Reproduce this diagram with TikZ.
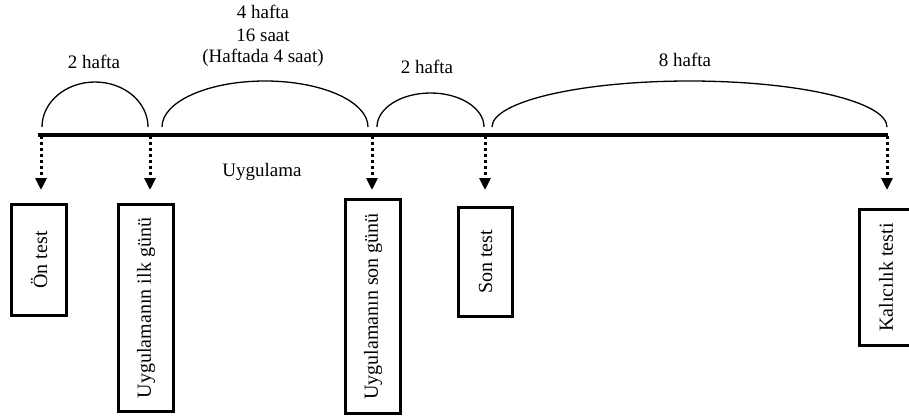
\documentclass[tikz,border=0pt]{standalone}
\usepackage{fontspec}
\setmainfont{Liberation Serif}
\usetikzlibrary{arrows.meta}

\begin{document}
\begin{tikzpicture}[x=1pt,y=1pt,
  lbl/.style={font=\fontsize{19}{22}\selectfont, inner sep=0pt, anchor=base},
  phase/.style={draw, line width=3pt, rotate=90, inner sep=0pt,
    font=\fontsize{20}{24}\selectfont},
  span/.style={line width=1.3pt},
  drop/.style={line width=3pt, dash pattern=on 3pt off 3pt,
    -{Triangle[width=11pt,length=12pt]}},
  axis/.style={line width=3.5pt}]
\useasboundingbox (0,0) rectangle (909,-416);

% time axis and its marks
\coordinate (s) at (38,-135);
\coordinate (e) at (888,-135);
\draw[axis] (s) -- (e);
\coordinate (t1) at (41,-136);
\coordinate (t2) at (150,-136);
\coordinate (t3) at (372,-136);
\coordinate (t4) at (485,-136);
\coordinate (t5) at (887,-136);

% arrow ends
\coordinate (a1) at (41,-190);
\coordinate (a2) at (150,-190);
\coordinate (a3) at (372,-190);
\coordinate (a4) at (485,-190);
\coordinate (a5) at (887,-190);

% spans over the axis
\coordinate (c1) at (42,-127);
\coordinate (c2) at (162,-127);
\coordinate (c3) at (377,-127);
\coordinate (c4) at (492,-127);
\draw[span] (c1) arc[start angle=180, end angle=0, x radius=53, y radius=45];
\draw[span] (c2) arc[start angle=180, end angle=0, x radius=103, y radius=46];
\draw[span] (c3) arc[start angle=180, end angle=0, x radius=53.5, y radius=34];
\draw[span] (c4) arc[start angle=180, end angle=0, x radius=197.5, y radius=46];

% span labels
\node[lbl] (w1) at (94,-68) {2 hafta};
\node[lbl] (w2a) at (263,-18) {4 hafta};
\node[lbl] (w2b) at (263,-41) {16 saat};
\node[lbl] (w2c) at (263,-62) {(Haftada 4 saat)};
\node[lbl] (w3) at (427,-73) {2 hafta};
\node[lbl] (w4) at (685,-66) {8 hafta};
\node[lbl] (uyg) at (262,-176) {Uygulama};

% dotted drops
\draw[drop] (t1) -- (a1);
\draw[drop] (t2) -- (a2);
\draw[drop] (t3) -- (a3);
\draw[drop] (t4) -- (a4);
\draw[drop] (t5) -- (a5);

% stage boxes
\node[phase, minimum width=111pt, minimum height=55pt] (b1) at (39,-260) {Ön test};
\node[phase, minimum width=207pt, minimum height=55pt] (b2) at (146,-308) {Uygulamanın ilk günü};
\node[phase, minimum width=214pt, minimum height=55pt] (b3) at (373,-306.5) {Uygulamanın son günü};
\node[phase, minimum width=109pt, minimum height=54pt] (b4) at (485.5,-262) {Son test};
\node[phase, minimum width=136pt, minimum height=53pt] (b5) at (886,-277.5) {Kalıcılık testi};
\end{tikzpicture}
\end{document}
